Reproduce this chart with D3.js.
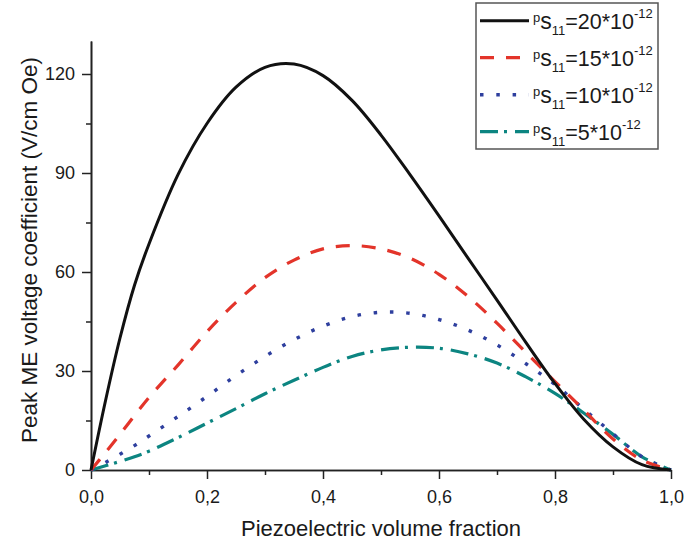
<!DOCTYPE html>
<html>
<head>
<meta charset="utf-8">
<script src="https://cdn.jsdelivr.net/npm/d3@7"></script>
<style>
  html, body { margin: 0; padding: 0; background: #fff; }
  svg { display: block; }
  text { font-family: "Liberation Sans", Arial, Helvetica, sans-serif; fill: #1a1a1a; }
</style>
</head>
<body>
<svg id="chart" width="686" height="546"></svg>
<script>
// ---- data ----
const fractions = [0, 0.025, 0.05, 0.075, 0.1, 0.15, 0.2, 0.25, 0.3, 0.35, 0.4, 0.45, 0.5, 0.55, 0.6, 0.65, 0.7, 0.75, 0.8, 0.85, 0.9, 0.95, 1.0];
const s20 = [0, 21, 40, 56, 68.5, 89.5, 105, 116, 122, 123, 119.5, 112, 101.5, 89.5, 77, 64.2, 51.5, 38.6, 26.2, 15.3, 7, 1.6, 0];
const s15 = [0, 5.3, 10.8, 16.5, 22, 31.8, 41.9, 50.8, 58.3, 63.6, 67, 68, 67, 64.2, 59.3, 52.6, 44.5, 35.6, 26.8, 18.1, 9.4, 3, 0];
const s10 = [0, 2.3, 4.8, 7.4, 10.3, 16.2, 22.3, 28.6, 34.4, 39.5, 43.6, 46.5, 47.8, 47.5, 45.6, 42.4, 37.9, 32.2, 25.9, 18.4, 11, 4, 0];
const s5  = [0, 1.3, 2.6, 4.0, 5.7, 9.8, 14.2, 18.6, 23.1, 27.2, 31.1, 34.4, 36.4, 37.2, 36.9, 35.2, 32.4, 28.2, 23.2, 17.2, 10.8, 4.0, 0];
const seriesNames = ["20", "15", "10", "5"];
const xTicks = [0, 0.2, 0.4, 0.6, 0.8, 1.0];
const xMinorTicks = [0.1, 0.3, 0.5, 0.7, 0.9];
const yTicks = [0, 30, 60, 90, 120];
const yMinorTicks = [15, 45, 75, 105];
const xTitle = "Piezoelectric volume fraction";
const yTitle = "Peak ME voltage coefficient (V/cm Oe)";

// ---- build ----
const series = [
  { name: seriesNames[0], values: s20, color: "#111111", dash: null,        width: 3 },
  { name: seriesNames[1], values: s15, color: "#e3342a", dash: "14,12",     width: 3.2 },
  { name: seriesNames[2], values: s10, color: "#2e3f9e", dash: "3.5,12.8",  width: 3.4 },
  { name: seriesNames[3], values: s5,  color: "#0c8581", dash: "18,6,3,8",  width: 3.2 }
];

const svg = d3.select("#chart");
const x = d3.scaleLinear().domain([0, 1]).range([91, 671]);
const y = d3.scaleLinear().domain([0, 130]).range([470, 41]);

const fmtX = v => d3.format(".1f")(v).replace(".", ",");

// axes: minor ticks
const gxMinor = svg.append("g").attr("transform", "translate(0,470)")
  .call(d3.axisBottom(x).tickValues(xMinorTicks).tickSize(5).tickSizeOuter(0).tickFormat(""));
const gyMinor = svg.append("g").attr("transform", "translate(91,0)")
  .call(d3.axisLeft(y).tickValues(yMinorTicks).tickSize(5).tickSizeOuter(0).tickFormat(""));

const gx = svg.append("g").attr("transform", "translate(0,470)")
  .call(d3.axisBottom(x).tickValues(xTicks).tickSize(9).tickSizeOuter(0).tickPadding(11).tickFormat(fmtX));
const gy = svg.append("g").attr("transform", "translate(91,0)")
  .call(d3.axisLeft(y).tickValues(yTicks).tickSize(9).tickSizeOuter(0).tickPadding(7));

[gx, gy, gxMinor, gyMinor].forEach(g => {
  g.selectAll("path.domain").attr("stroke", "#222").attr("stroke-width", 1.6);
  g.selectAll(".tick line").attr("stroke", "#222").attr("stroke-width", 1.5);
  g.selectAll(".tick text").attr("font-size", 18).attr("fill", "#1a1a1a")
    .attr("font-family", "Liberation Sans, Arial, sans-serif");
});

// curves
const line = d3.line()
  .x((d, i) => x(fractions[i]))
  .y(d => y(d))
  .curve(d3.curveCatmullRom.alpha(0.5));

const plot = svg.append("g");
series.slice().reverse().forEach(s => {
  plot.append("path")
    .attr("d", line(s.values))
    .attr("fill", "none")
    .attr("stroke", s.color)
    .attr("stroke-width", s.width)
    .attr("stroke-dasharray", s.dash)
    .attr("stroke-linejoin", "round");
});

// titles
svg.append("text")
  .attr("x", 381).attr("y", 536)
  .attr("text-anchor", "middle")
  .attr("font-size", 22)
  .text(xTitle);
svg.append("text")
  .attr("transform", "translate(37,250) rotate(-90)")
  .attr("text-anchor", "middle")
  .attr("font-size", 22.5)
  .text(yTitle);

// legend
const leg = svg.append("g");
leg.append("rect")
  .attr("x", 476).attr("y", 3).attr("width", 182).attr("height", 146)
  .attr("fill", "#fff").attr("stroke", "#555").attr("stroke-width", 1.5);
const rowY = d3.scaleLinear().domain([0, 3]).range([20.7, 131.7]);
series.forEach((s, i) => {
  const cy = rowY(i);
  leg.append("line")
    .attr("x1", 480).attr("x2", 529).attr("y1", cy).attr("y2", cy)
    .attr("stroke", s.color).attr("stroke-width", s.width)
    .attr("stroke-dasharray", s.dash);
  const t = leg.append("text").attr("x", 533).attr("y", cy + 8).attr("font-size", 21.5);
  t.append("tspan").attr("font-size", 13).attr("dy", -7).text("p");
  t.append("tspan").attr("font-size", 23).attr("dy", 7).text("s");
  t.append("tspan").attr("font-size", 13).attr("dy", 6).text("11");
  t.append("tspan").attr("font-size", 21.5).attr("dy", -6).text("=" + s.name + "*10");
  t.append("tspan").attr("font-size", 13).attr("dy", -11).text("-12");
});
</script>
</body>
</html>
